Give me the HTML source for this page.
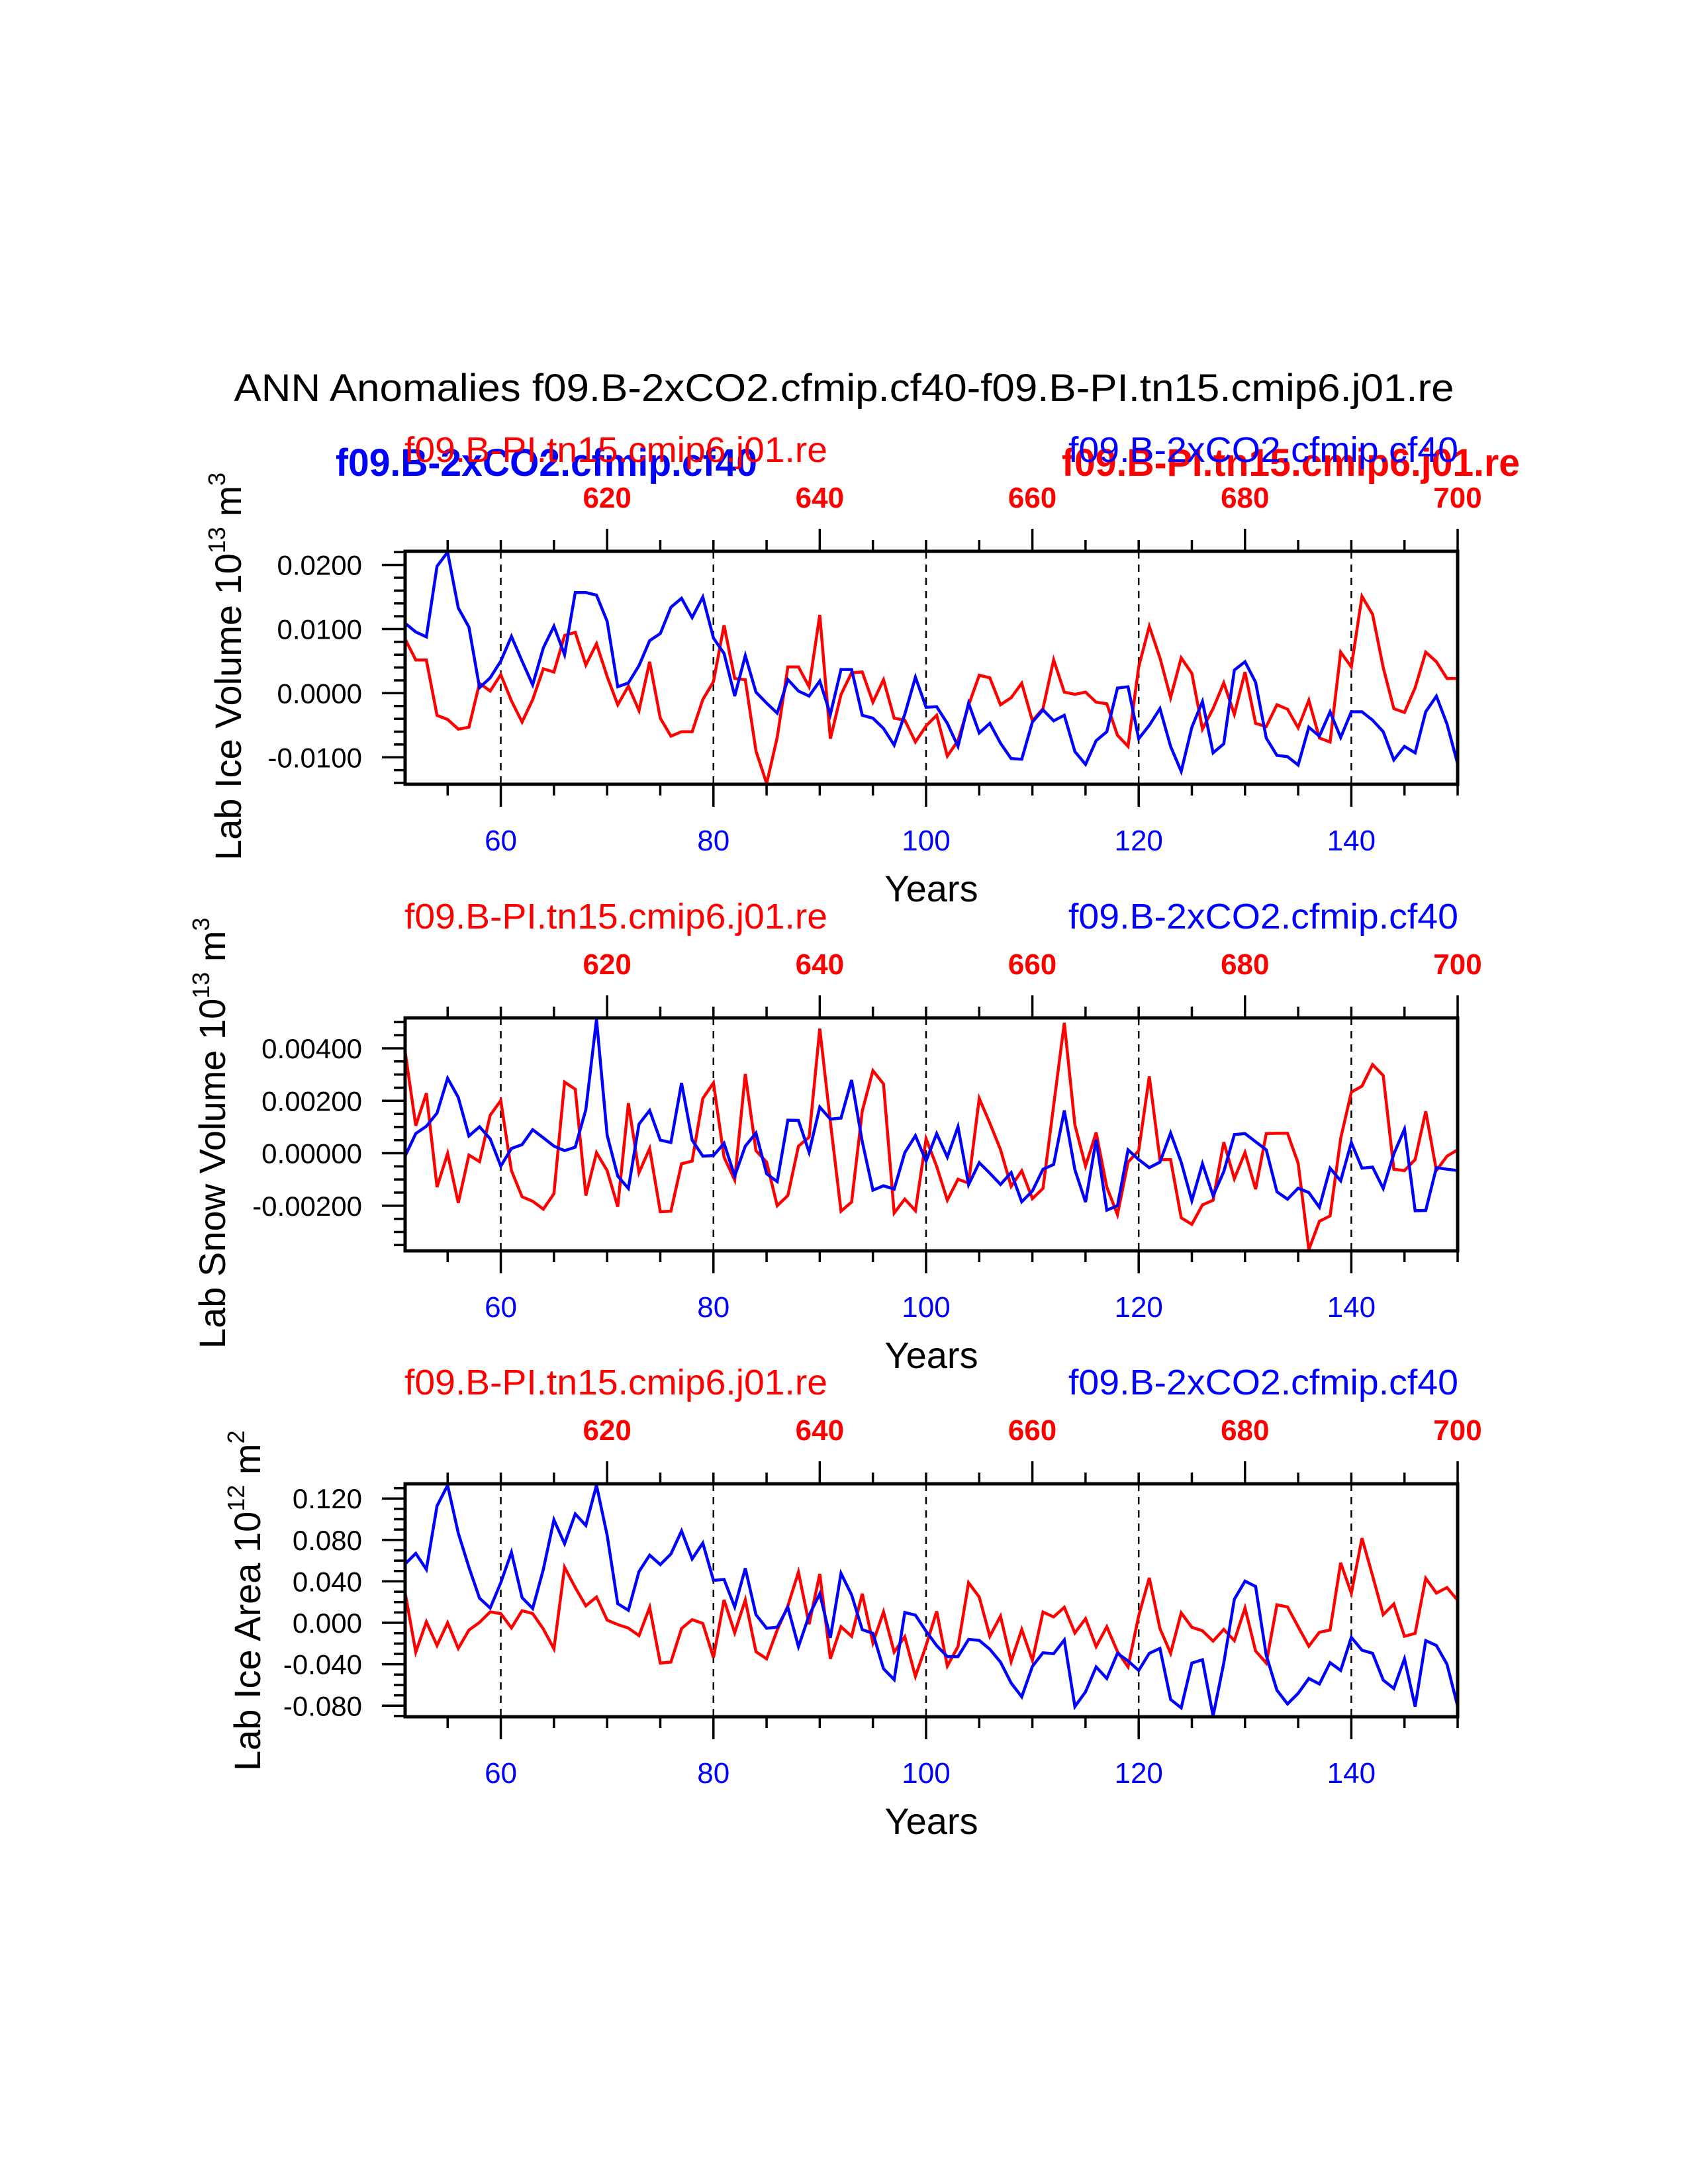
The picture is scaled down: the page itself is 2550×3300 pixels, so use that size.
<!DOCTYPE html>
<html><head><meta charset="utf-8">
<style>
html,body{margin:0;padding:0;background:#fff;}
svg{display:block;font-family:"Liberation Sans",Arial,sans-serif;}
</style></head>
<body>
<svg id="chart" xmlns="http://www.w3.org/2000/svg" width="2550" height="3300" viewBox="0 0 2550 3300">
<rect x="0" y="0" width="2550" height="3300" fill="#fff"/>
<text x="1275" y="606" font-size="58" text-anchor="middle" textLength="1843" lengthAdjust="spacingAndGlyphs">ANN Anomalies f09.B-2xCO2.cfmip.cf40-f09.B-PI.tn15.cmip6.j01.re</text>
<text x="507" y="719" font-size="58" font-weight="bold" fill="#0000ff" textLength="637" lengthAdjust="spacingAndGlyphs">f09.B-2xCO2.cfmip.cf40</text>
<text x="1604" y="719" font-size="58" font-weight="bold" fill="#ff0000" textLength="692" lengthAdjust="spacingAndGlyphs">f09.B-PI.tn15.cmip6.j01.re</text>
<g id="panels"></g>
</svg>
<script>
// years (blue axis); red axis = year + 550
const years = [];
for (let y = 51; y <= 150; y++) years.push(y);

const iceVolBlue = [0.0109,0.00955,0.00879,0.0198,0.0220,0.0133,0.0103,0.00086,0.0024,0.0050,0.00886,0.0050,0.0013,0.00707,0.01045,0.0060,0.0157,0.0157,0.0153,0.0112,0.0010,0.0016,0.0043,0.0082,0.0093,0.0134,0.0148,0.0118,0.0150,0.0086,0.0062,-0.00045,0.00586,0.00017,-0.00155,-0.0031,0.00214,0.00034,-0.00045,0.0019,-0.0033,0.0037,0.0037,-0.00345,-0.0039,-0.0055,-0.0081,-0.0033,0.0025,-0.0022,-0.0021,-0.0047,-0.0083,-0.00155,-0.0062,-0.0047,-0.0078,-0.0102,-0.0103,-0.0045,-0.0026,-0.0043,-0.00345,-0.0091,-0.0111,-0.0074,-0.0060,0.0008,0.0010,-0.0071,-0.0050,-0.0024,-0.0083,-0.0122,-0.0053,-0.0013,-0.0093,-0.0079,0.0036,0.0049,0.0017,-0.0070,-0.0097,-0.0099,-0.0112,-0.0053,-0.0067,-0.0029,-0.0069,-0.0029,-0.0029,-0.0042,-0.0060,-0.0104,-0.0083,-0.0093,-0.0029,-0.00045,-0.0048,-0.0110];
const iceVolRed = [0.00845,0.00517,0.00517,-0.00345,-0.0041,-0.0056,-0.0053,0.00155,0.00034,0.0029,-0.0012,-0.0045,-0.0010,0.0038,0.0033,0.0090,0.0095,0.0044,0.0077,0.0026,-0.0018,0.0011,-0.0027,0.0049,-0.0039,-0.0067,-0.0060,-0.0060,-0.0010,0.0018,0.0106,0.0023,0.0021,-0.0090,-0.0141,-0.0069,0.0041,0.0041,0.0010,0.0122,-0.0071,-0.0002,0.0032,0.0033,-0.0014,0.0021,-0.0039,-0.0042,-0.0076,-0.0051,-0.00345,-0.0098,-0.0074,-0.0019,0.0028,0.0024,-0.0018,-0.0007,0.00155,-0.0043,-0.0024,0.0052,0.00017,-0.00017,0.00017,-0.0014,-0.00165,-0.00655,-0.0083,0.0041,0.01045,0.0055,-0.0007,0.0055,0.0031,-0.0056,-0.0024,0.0016,-0.0033,0.0033,-0.0047,-0.0052,-0.0018,-0.0025,-0.0054,-0.0011,-0.0070,-0.0076,0.0064,0.0041,0.0151,0.0123,0.0040,-0.0024,-0.0030,0.00086,0.0064,0.0049,0.0023,0.0023];

const snowBlue = [-0.00011,0.00075,0.00103,0.00153,0.00286,0.00213,0.00066,0.00101,0.00055,-0.00049,0.00018,0.00033,0.00090,0.00059,0.00027,0.00010,0.00023,0.00166,0.00510,0.00069,-0.00087,-0.00134,0.00111,0.00163,0.00050,0.00041,0.00268,0.00050,-0.00011,-0.00009,0.00038,-0.00087,0.00027,0.00077,-0.00078,-0.00108,0.00126,0.00125,0.00004,0.00176,0.00130,0.00134,0.00279,0.00044,-0.00141,-0.00124,-0.00137,0.00002,0.00067,-0.00030,0.00075,-0.00015,0.00101,-0.00120,-0.00036,-0.00076,-0.00119,-0.00074,-0.00185,-0.00144,-0.00061,-0.00043,0.00163,-0.00063,-0.00186,0.00052,-0.00217,-0.00200,0.00013,-0.00024,-0.00055,-0.00034,0.00077,-0.00034,-0.00181,-0.00040,-0.00162,-0.00070,0.00071,0.00075,0.00044,0.00013,-0.00147,-0.00175,-0.00133,-0.00150,-0.00206,-0.00057,-0.00105,0.00041,-0.00057,-0.00053,-0.00134,-0.00003,0.00092,-0.00219,-0.00218,-0.00055,-0.00061,-0.00066];
const snowRed = [0.00388,0.00105,0.00229,-0.00129,-0.00001,-0.00189,-0.00007,-0.00032,0.00145,0.00201,-0.00066,-0.00166,-0.00183,-0.00213,-0.00154,0.00271,0.00244,-0.00161,0.00002,-0.00066,-0.00204,0.00191,-0.00074,0.00018,-0.00223,-0.00221,-0.00040,-0.00030,0.00209,0.00268,-0.00015,-0.00102,0.00302,0.00010,-0.00034,-0.00200,-0.00161,0.00027,0.00061,0.00475,0.00120,-0.00221,-0.00186,0.00161,0.00315,0.00264,-0.00228,-0.00175,-0.00219,0.00055,-0.00050,-0.00179,-0.00099,-0.00114,0.00209,0.00115,0.00014,-0.00126,-0.00067,-0.00173,-0.00134,0.00182,0.00497,0.00108,-0.00049,0.00079,-0.00129,-0.00234,-0.00034,0.00010,0.00293,-0.00024,-0.00024,-0.00246,-0.00271,-0.00197,-0.00179,0.00042,-0.00097,0.00003,-0.00137,0.00075,0.00076,0.00076,-0.00038,-0.00368,-0.00259,-0.00239,0.00056,0.00233,0.00256,0.00338,0.00296,-0.00061,-0.00066,-0.00024,0.00160,-0.00066,-0.00011,0.00013];

const areaBlue = [0.0568,0.0670,0.0515,0.1128,0.1328,0.0866,0.0536,0.0238,0.0143,0.0387,0.0681,0.0243,0.0138,0.0515,0.0994,0.0764,0.1051,0.0940,0.1328,0.0845,0.0185,0.0121,0.0494,0.0653,0.0562,0.0664,0.0887,0.0617,0.0770,0.0409,0.0419,0.0153,0.0526,0.0079,-0.0053,-0.0043,0.0149,-0.0230,0.0072,0.0281,-0.0145,0.0477,0.0270,-0.0066,-0.0102,-0.0443,-0.0549,0.0100,0.0074,-0.0081,-0.0220,-0.0326,-0.0326,-0.0160,-0.0170,-0.0255,-0.0379,-0.0581,-0.0715,-0.0421,-0.0289,-0.0298,-0.0166,-0.0809,-0.0666,-0.0426,-0.0538,-0.0294,-0.0368,-0.0460,-0.0294,-0.0247,-0.0740,-0.0821,-0.0389,-0.0357,-0.0900,-0.0389,0.0228,0.0402,0.0351,-0.0315,-0.0651,-0.0783,-0.0681,-0.0538,-0.0591,-0.0385,-0.0460,-0.0140,-0.0264,-0.0294,-0.0553,-0.0634,-0.0347,-0.0809,-0.0172,-0.0219,-0.0400,-0.0804];
const areaRed = [0.0291,-0.0283,0.0009,-0.0219,0.0000,-0.0247,-0.0070,0.0004,0.0106,0.0089,-0.0049,0.0117,0.0089,-0.0060,-0.0251,0.0536,0.0340,0.0164,0.0249,0.0026,-0.0017,-0.0051,-0.0123,0.0149,-0.0389,-0.0379,-0.0055,0.0030,-0.0006,-0.0336,0.0221,-0.0096,0.0221,-0.0279,-0.0347,-0.0070,0.0164,0.0489,-0.0013,0.0472,-0.0347,-0.0038,-0.0130,0.0281,-0.0194,0.0106,-0.0283,-0.0134,-0.0517,-0.0219,0.0111,-0.0417,-0.0230,0.0387,0.0249,-0.0130,0.0064,-0.0374,-0.0064,-0.0362,0.0104,0.0057,0.0149,-0.0098,0.0040,-0.0230,-0.0038,-0.0277,-0.0426,0.0068,0.0434,-0.0055,-0.0294,0.0096,-0.0043,-0.0077,-0.0177,-0.0064,-0.0172,0.0143,-0.0272,-0.0389,0.0174,0.0153,-0.0038,-0.0226,-0.0091,-0.0070,0.0579,0.0285,0.0817,0.0455,0.0079,0.0181,-0.0130,-0.0102,0.0430,0.0287,0.0340,0.0217];

const blueTickYears = [60, 80, 100, 120, 140];
const redTickLabels = [620, 640, 660, 680, 700];
const vol1Ticks = [-0.01, 0, 0.01, 0.02];
const vol1Labels = ["-0.0100", "0.0000", "0.0100", "0.0200"];
const snowTicks = [-0.002, 0, 0.002, 0.004];
const snowLabels = ["-0.00200", "0.00000", "0.00200", "0.00400"];
const areaTicks = [-0.08, -0.04, 0, 0.04, 0.08, 0.12];
const areaLabels = ["-0.080", "-0.040", "0.000", "0.040", "0.080", "0.120"];

const NS = "http://www.w3.org/2000/svg";
const root = document.getElementById("panels");
const X0 = 612, X1 = 2202, YR0 = 51, YR1 = 150, H = 352;
const xOf = yr => X0 + (yr - YR0) * (X1 - X0) / (YR1 - YR0);

function el(tag, attrs, parent) {
  const e = document.createElementNS(NS, tag);
  for (const k in attrs) e.setAttribute(k, attrs[k]);
  parent.appendChild(e);
  return e;
}

const panels = [
  {key: "ice-volume", top: 833, vmin: -0.0142, vmax: 0.02213, minor: 0.002, ticks: vol1Ticks, labels: vol1Labels, blue: iceVolBlue, red: iceVolRed,
   ylab: ["Lab Ice Volume 10", "13", " m", "3"], ylx: 364, yly: 1300},
  {key: "snow-volume", top: 1538, vmin: -0.00372, vmax: 0.00516, minor: 0.0005, ticks: snowTicks, labels: snowLabels, blue: snowBlue, red: snowRed,
   ylab: ["Lab Snow Volume 10", "13", " m", "3"], ylx: 340, yly: 2038},
  {key: "ice-area", top: 2242, vmin: -0.0907, vmax: 0.1342, minor: 0.01, ticks: areaTicks, labels: areaLabels, blue: areaBlue, red: areaRed,
   ylab: ["Lab Ice Area 10", "12", " m", "2"], ylx: 393, yly: 2676}
];

panels.forEach(p => {
  const g = el("g", {}, root);
  
  
  const T = p.top, B = p.top + H;
  const yOf = v => B - (v - p.vmin) / (p.vmax - p.vmin) * H;

  blueTickYears.forEach(yr => {
    const l = el("line", {x1: xOf(yr), x2: xOf(yr), y1: T, y2: B, stroke: "#000", "stroke-width": 2.5, "stroke-dasharray": "11 9"}, g);
    
    
  });

  [["red", "#ff0000", p.red], ["blue", "#0000ff", p.blue]].forEach(([nm, col, arr]) => {
    const pts = arr.map((v, i) => xOf(years[i]).toFixed(1) + "," + yOf(v).toFixed(1)).join(" ");
    const pl = el("polyline", {points: pts, fill: "none", stroke: col, "stroke-width": 4.5, "stroke-linejoin": "miter"}, g);
    
    
  });

  const fr = el("rect", {x: X0, y: T, width: X1 - X0, height: H, fill: "none", stroke: "#000", "stroke-width": 5}, g);
  
  

  for (let yr = 55; yr <= 150; yr += 5) {
    const major = blueTickYears.includes(yr);
    const t = el("line", {x1: xOf(yr), x2: xOf(yr), y1: B, y2: B + (major ? 34 : 17), stroke: "#000", "stroke-width": 3.5}, g);
    
    
  }
  blueTickYears.forEach(yr => {
    const t = el("text", {x: xOf(yr), y: B + 100, "font-size": 44, fill: "#0000ff", "text-anchor": "middle"}, g);
    t.textContent = yr;
    
    
  });
  for (let yr = 55; yr <= 150; yr += 5) {
    const major = (yr - 70) % 20 === 0;
    const t = el("line", {x1: xOf(yr), x2: xOf(yr), y1: T, y2: T - (major ? 34 : 17), stroke: "#000", "stroke-width": 3.5}, g);
    
    
  }
  redTickLabels.forEach(lab => {
    const t = el("text", {x: xOf(lab - 550), y: T - 66, "font-size": 44, "font-weight": "bold", fill: "#ff0000", "text-anchor": "middle"}, g);
    t.textContent = lab;
    
    
  });

  const n0 = Math.ceil(p.vmin / p.minor - 1e-6), n1 = Math.floor(p.vmax / p.minor + 1e-6);
  for (let n = n0; n <= n1; n++) {
    const v = n * p.minor;
    const major = p.ticks.some(tv => Math.abs(tv - v) < p.minor / 10);
    const t = el("line", {x1: X0, x2: X0 - (major ? 35 : 17), y1: yOf(v), y2: yOf(v), stroke: "#000", "stroke-width": 3.5}, g);
    
    
  }
  p.ticks.forEach((v, i) => {
    const t = el("text", {x: 547, y: yOf(v) + 15, "font-size": 42, "text-anchor": "end"}, g);
    t.textContent = p.labels[i];
    
    
  });

  const rl = el("text", {x: 611, y: T - 135, "font-size": 54, fill: "#ff0000", textLength: 639, lengthAdjust: "spacingAndGlyphs"}, g);
  rl.textContent = "f09.B-PI.tn15.cmip6.j01.re";
  
  
  const bl = el("text", {x: 2203, y: T - 135, "font-size": 54, fill: "#0000ff", "text-anchor": "end", textLength: 589, lengthAdjust: "spacingAndGlyphs"}, g);
  bl.textContent = "f09.B-2xCO2.cfmip.cf40";
  
  

  const xt = el("text", {x: (X0 + X1) / 2, y: T + 529, "font-size": 56, "text-anchor": "middle"}, g);
  xt.textContent = "Years";
  
  

  const yt = el("text", {x: 0, y: 0, "font-size": 56, transform: "translate(" + p.ylx + "," + p.yly + ") rotate(-90)"}, g);
  
  
  const s1 = el("tspan", {}, yt); s1.textContent = p.ylab[0];
  const s2 = el("tspan", {dy: -24, "font-size": 36}, yt); s2.textContent = p.ylab[1];
  const s3 = el("tspan", {dy: 24}, yt); s3.textContent = p.ylab[2];
  const s4 = el("tspan", {dy: -24, "font-size": 36}, yt); s4.textContent = p.ylab[3];
});
</script>
</body></html>
